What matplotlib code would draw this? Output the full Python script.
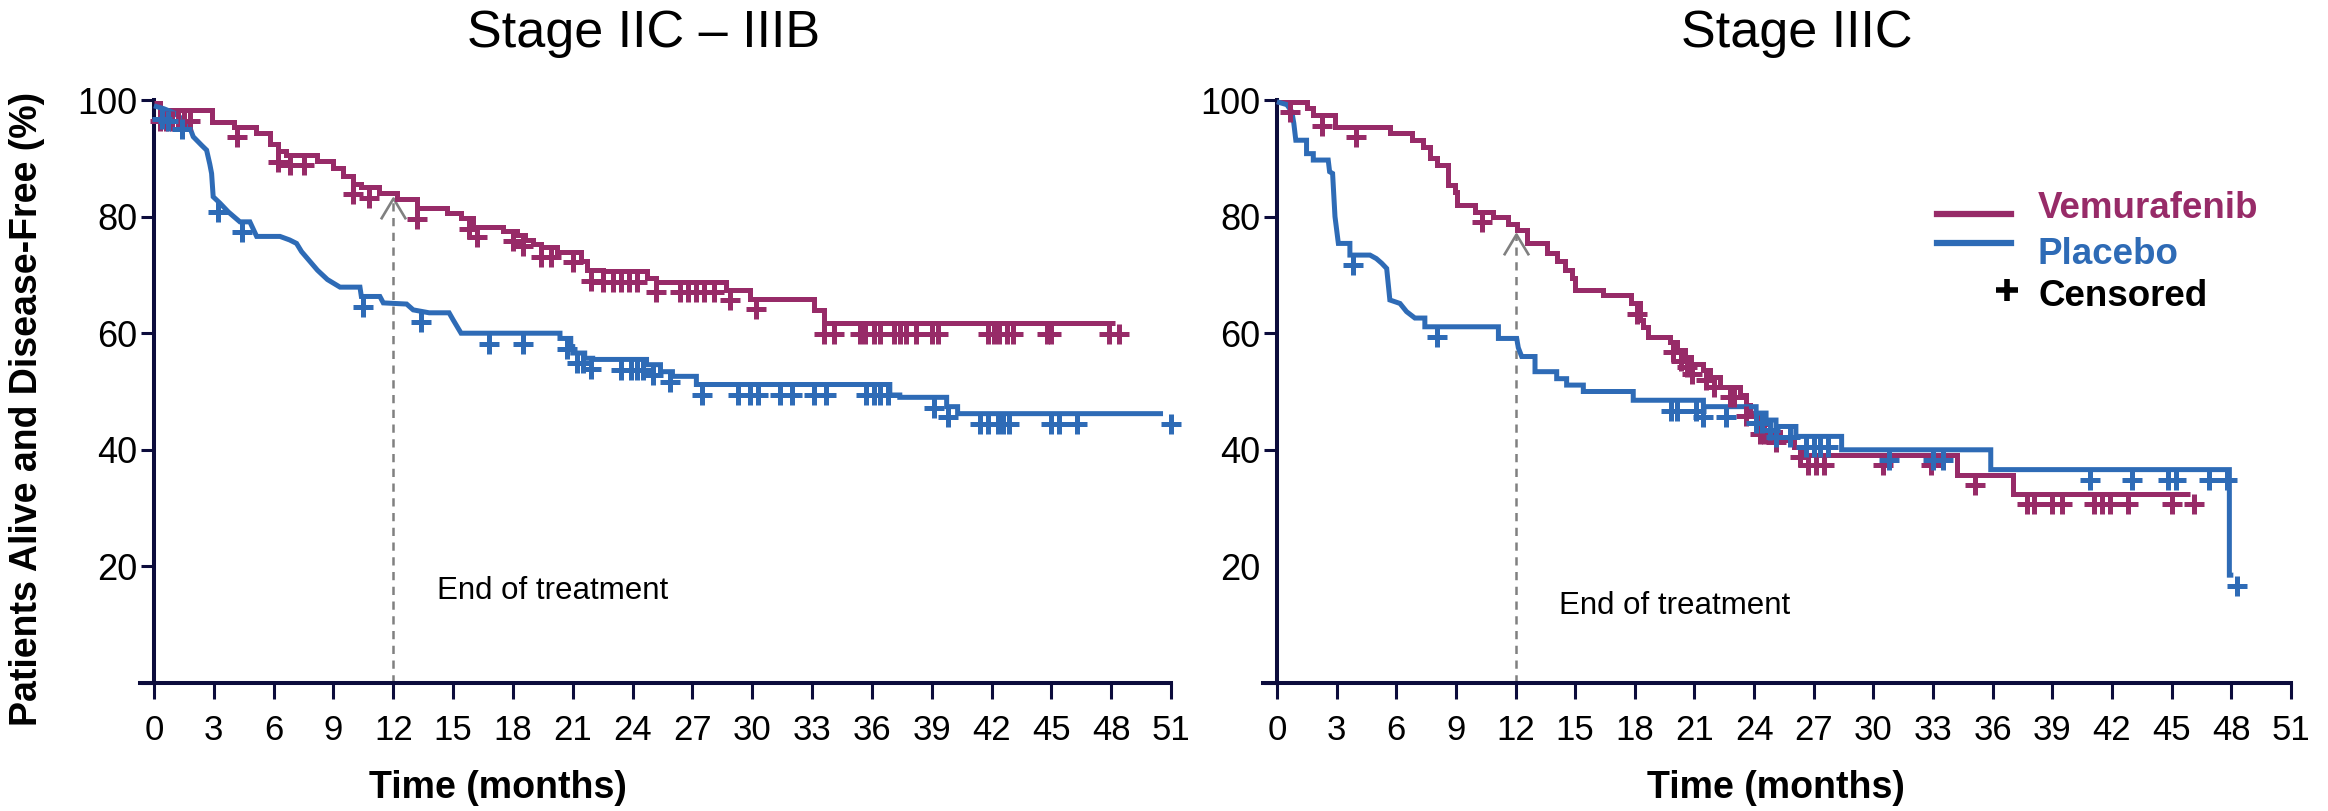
import numpy as np
import matplotlib
matplotlib.use("Agg")
import matplotlib.pyplot as plt
from matplotlib.path import Path
from matplotlib.lines import Line2D
import matplotlib.transforms as mtransforms

plt.rcParams['font.family'] = ['Liberation Sans', 'DejaVu Sans']

# ---------------- data ----------------
titles = ["Stage IIC \u2013 IIIB", "Stage IIIC"]
series_names = ["Vemurafenib", "Placebo"]
x_ticks = list(range(0, 52, 3))
y_ticks = [0, 20, 40, 60, 80, 100]
y_ticklabels = ["", "20", "40", "60", "80", "100"]

# curve vertices (time in months, % alive and disease-free)
left_vem = [(0, 99.5), (0.3, 99.5), (0.3, 98.2), (2.9, 98.2), (2.9, 96.3), (4.0, 96.3), (4.0, 95.4),
            (5.1, 95.4), (5.1, 94.3), (5.8, 94.3), (5.8, 92.5), (6.2, 92.5), (6.2, 91.2), (6.6, 91.2),
            (6.6, 90.6), (8.2, 90.6), (8.2, 89.5), (9.0, 89.5), (9.0, 88.3), (9.5, 88.3), (9.5, 86.9),
            (10.0, 86.9), (10.0, 85.6), (10.4, 85.6), (10.4, 85.0), (11.3, 85.0), (11.3, 84.0),
            (12.2, 84.0), (12.2, 83.0), (13.2, 83.0), (13.2, 81.4), (14.7, 81.4), (14.7, 80.6),
            (15.4, 80.6), (15.4, 79.7), (16.0, 79.7), (16.0, 78.3), (17.5, 78.3), (17.5, 77.6),
            (18.2, 77.6), (18.2, 76.8), (18.6, 76.8), (18.6, 76.0), (19.0, 76.0), (19.0, 75.3),
            (19.4, 75.3), (19.4, 74.8), (20.2, 74.8), (20.2, 74.0), (21.4, 74.0), (21.4, 72.3),
            (21.7, 72.3), (21.7, 70.8), (22.5, 70.8), (22.5, 70.6), (24.7, 70.6), (24.7, 69.4),
            (25.2, 69.4), (25.2, 68.8), (28.7, 68.8), (28.7, 67.4), (29.9, 67.4), (29.9, 65.9),
            (33.1, 65.9), (33.1, 63.9), (33.6, 63.9), (33.6, 61.7), (48.2, 61.7)]
left_plc = [(0, 99.0), (0.5, 98.5), (1.0, 97.8), (1.72, 96.0), (1.97, 93.7), (2.4, 92.2), (2.64, 91.4),
            (2.8, 89.0), (2.89, 87.4), (2.97, 83.4), (3.31, 82.3), (3.73, 80.8), (4.31, 79.1),
            (4.81, 79.1), (5.15, 76.6), (6.32, 76.6), (6.8, 76.0), (7.15, 75.4), (7.4, 74.0),
            (7.8, 72.4), (8.2, 70.8), (8.7, 69.2), (9.33, 67.9), (10.33, 67.9), (10.4, 66.3),
            (11.33, 66.3), (11.5, 65.2), (12.67, 65.0), (13.0, 64.0), (13.8, 63.5), (14.8, 63.5),
            (15.0, 62.3), (15.4, 60.0), (20.36, 60.0), (20.36, 59.1), (20.9, 59.1), (20.9, 57.7),
            (21.0, 57.7), (21.0, 56.6), (21.6, 56.6), (21.6, 55.7), (22.0, 55.7), (22.0, 55.5),
            (24.7, 55.5), (24.7, 54.6), (25.4, 54.6), (25.4, 53.4), (26.0, 53.4), (26.0, 52.6),
            (27.2, 52.6), (27.2, 51.2), (36.9, 51.2), (36.9, 49.4), (37.4, 49.4), (37.4, 49.0),
            (39.75, 49.0), (39.75, 47.4), (40.3, 47.4), (40.3, 46.2), (50.6, 46.2)]
right_vem = [(0, 99.7), (1.49, 99.7), (1.49, 98.6), (1.83, 98.6), (1.83, 97.4), (2.92, 97.4),
             (2.92, 95.4), (5.68, 95.4), (5.68, 94.3), (6.8, 94.3), (6.8, 93.1), (7.36, 93.1),
             (7.36, 92.0), (7.7, 92.0), (7.7, 90.0), (8.03, 90.0), (8.03, 88.8), (8.6, 88.8),
             (8.6, 85.4), (8.95, 85.4), (8.95, 84.2), (9.04, 84.2), (9.04, 82.0), (9.96, 82.0),
             (9.96, 80.8), (10.88, 80.8), (10.88, 80.0), (11.63, 80.0), (11.63, 78.8), (12.06, 78.8),
             (12.06, 77.7), (12.56, 77.7), (12.56, 75.4), (13.56, 75.4), (13.56, 73.7), (14.07, 73.7),
             (14.07, 72.3), (14.5, 72.3), (14.5, 70.8), (14.82, 70.8), (14.82, 69.4), (14.99, 69.4),
             (14.99, 67.4), (16.4, 67.4), (16.4, 66.5), (17.8, 66.5), (17.8, 65.1), (18.26, 65.1),
             (18.26, 62.3), (18.4, 62.3), (18.4, 61.1), (18.68, 61.1), (18.68, 59.4), (19.77, 59.4),
             (19.77, 58.5), (20.1, 58.5), (20.1, 57.1), (20.5, 57.1), (20.5, 56.0), (20.85, 56.0),
             (20.85, 54.8), (21.45, 54.8), (21.45, 53.7), (21.8, 53.7), (21.8, 52.5), (22.3, 52.5),
             (22.3, 50.8), (23.3, 50.8), (23.3, 49.4), (23.6, 49.4), (23.6, 47.6), (23.8, 47.6),
             (23.8, 46.3), (24.3, 46.3), (24.3, 44.5), (24.8, 44.5), (24.8, 43.1), (25.3, 43.1),
             (25.3, 41.7), (26.0, 41.7), (26.0, 40.5), (26.5, 40.5), (26.5, 39.1), (34.2, 39.1),
             (34.2, 35.7), (37.0, 35.7), (37.0, 32.5), (45.9, 32.5)]
right_plc = [(0, 99.7), (0.5, 99.2), (0.75, 98.0), (0.85, 96.0), (0.95, 93.1), (1.49, 93.1),
             (1.49, 90.8), (1.83, 90.8), (1.83, 89.7), (2.58, 89.7), (2.65, 87.7), (2.8, 87.4),
             (2.92, 80.0), (3.09, 75.4), (3.67, 75.4), (3.67, 73.4), (4.68, 73.4), (5.0, 72.8),
             (5.27, 72.0), (5.52, 71.1), (5.68, 65.7), (6.19, 65.1), (6.52, 63.7), (6.94, 62.6),
             (7.44, 62.6), (7.44, 61.1), (11.14, 61.1), (11.14, 59.1), (12.06, 59.1), (12.14, 57.5),
             (12.31, 56.0), (12.98, 56.0), (12.98, 53.4), (14.07, 53.4), (14.07, 52.2), (14.57, 52.2),
             (14.57, 51.1), (15.41, 51.1), (15.41, 50.0), (17.92, 50.0), (17.92, 48.5), (21.45, 48.5),
             (21.45, 47.4), (24.1, 47.4), (24.1, 46.3), (24.6, 46.3), (24.6, 45.1), (25.1, 45.1),
             (25.1, 44.0), (26.1, 44.0), (26.1, 42.3), (28.4, 42.3), (28.4, 40.0), (35.9, 40.0),
             (35.9, 36.6), (47.9, 36.6), (47.9, 18.5), (48.1, 18.5)]

# censoring times (months)
left_vem_cens = [0.3, 0.6, 0.9, 1.2, 1.5, 1.8, 4.15, 6.2, 6.8, 7.5, 10.0, 10.8, 13.2, 15.8, 16.2, 18.0,
                 18.5, 19.4, 19.9, 21.0, 21.9, 22.5, 23.0, 23.4, 23.8, 24.2, 25.2, 26.4, 26.8, 27.2,
                 27.6, 28.1, 28.9, 30.2, 33.6, 34.1, 35.4, 35.65, 36.1, 36.4, 37.1, 37.4, 37.7, 38.2,
                 39.0, 39.3, 41.8, 42.1, 42.4, 42.8, 43.1, 44.8, 45.0, 47.9, 48.4]
left_plc_cens = [0.4, 0.7, 1.4, 3.2, 4.4, 10.5, 13.4, 16.8, 18.5, 20.7, 21.2, 21.5, 21.9, 23.4, 23.9,
                 24.2, 24.5, 25.0, 25.9, 27.5, 29.3, 29.9, 30.3, 31.4, 32.0, 33.1, 33.7, 35.7, 36.1,
                 36.4, 36.8, 39.1, 39.8, 41.4, 41.8, 42.3, 42.6, 42.9, 45.0, 45.4, 46.3, 51.0]
right_vem_cens = [0.65, 2.25, 4.0, 10.3, 18.1, 19.9, 20.3, 20.6, 20.9, 21.6, 22.0, 22.8, 23.0, 23.6,
                  24.3, 24.5, 25.1, 26.3, 26.7, 27.1, 27.5, 30.5, 32.9, 35.1, 37.7, 38.1, 39.0, 39.5,
                  41.1, 41.5, 41.9, 42.8, 45.0, 46.1]
right_plc_cens = [3.84, 8.03, 19.8, 20.1, 21.1, 21.45, 22.6, 24.1, 24.4, 24.8, 25.1, 25.8, 26.6, 27.0,
                  27.3, 27.7, 30.8, 33.0, 33.5, 40.9, 43.0, 44.8, 45.2, 46.9, 47.8, 48.3]

# end-of-treatment marker: month and curve level where the arrow points
eot_month = 12
eot_level = [83.2, 77.1]

# ---------------- style ----------------
C_VEM = "#972B68"
C_PLC = "#2E6BB6"
SPINE = "#0C0C3C"
GREY = "#808080"
LW = 3.6
NARROW = ['Liberation Sans Narrow', 'Liberation Sans', 'DejaVu Sans']

fig = plt.figure(figsize=(23.28, 8.11), dpi=100)
axL = fig.add_axes([140 / 2328, 1 - 683 / 811, 1031 / 2328, 583 / 811])
axR = fig.add_axes([1263 / 2328, 1 - 683 / 811, 1028 / 2328, 583 / 811])


def level_at(tv, sv, t):
    i = np.searchsorted(tv, t, side='right') - 1
    if i >= len(tv) - 1:
        return sv[-1]
    t0, t1 = tv[i], tv[i + 1]
    if t1 <= t0:
        return sv[i]
    return sv[i] + (sv[i + 1] - sv[i]) * (t - t0) / (t1 - t0)


chevron = Path([(-0.6, -1.0), (0, 0), (0.6, -1.0)], [Path.MOVETO, Path.LINETO, Path.LINETO])

panels = [
    (axL, left_vem, left_plc, left_vem_cens, left_plc_cens, eot_level[0], (14.2, 15.8), 0.347),
    (axR, right_vem, right_plc, right_vem_cens, right_plc_cens, eot_level[1], (14.2, 13.2), 0.499),
]

for k, (ax, vem, plc, vc, pc, lvl, txt_pos, xl_pos) in enumerate(panels):
    offset = mtransforms.ScaledTranslation(0, -7.5 / 72, fig.dpi_scale_trans)
    for curve, cens, col in [(vem, vc, C_VEM), (plc, pc, C_PLC)]:
        arr = np.array(curve)
        tv, sv = arr[:, 0], arr[:, 1]
        ax.plot(tv, sv, color=col, lw=LW, solid_joinstyle='miter', solid_capstyle='butt',
                clip_on=False, zorder=3)
        cy = [level_at(tv, sv, t) for t in cens]
        ax.plot(cens, cy, ls='none', marker='+', ms=15, mew=3.6, color=col,
                transform=ax.transData + offset, clip_on=False, zorder=4)

    # end of treatment dashed arrow
    dl, = ax.plot([eot_month, eot_month], [0, lvl], color=GREY, lw=1.8, zorder=2)
    dl.set_dashes([3.3, 2.6])
    ax.plot([eot_month], [lvl], ls='none', marker=chevron, ms=30, mew=1.9,
            mfc='none', mec=GREY, zorder=2)
    ax.text(txt_pos[0], txt_pos[1], "End of treatment", fontsize=22.5, ha='left', va='center')

    ax.set_xlim(-0.7, 51)
    ax.set_ylim(0, 100)
    ax.spines['left'].set_position(('data', 0))
    ax.spines['top'].set_visible(False)
    ax.spines['right'].set_visible(False)
    for s in ('left', 'bottom'):
        ax.spines[s].set_color(SPINE)
        ax.spines[s].set_linewidth(2.9)
    ax.set_xticks(x_ticks)
    ax.set_xticklabels([str(v) for v in x_ticks], family=NARROW, fontsize=25)
    ax.set_yticks(y_ticks)
    ax.set_yticklabels(y_ticklabels, fontsize=26)
    ax.tick_params(axis='x', direction='out', length=11.5, width=2.2, color=SPINE, pad=11)
    ax.tick_params(axis='y', direction='out', length=9.5, width=2.2, color=SPINE, pad=2.5)
    if k == 1:
        ax.yaxis.get_major_ticks()[1].tick1line.set_visible(False)
    ax.text(xl_pos, -0.18, "Time (months)", transform=ax.transAxes, ha='center', va='center',
            fontsize=27, fontweight='bold', family=NARROW)

fig.text(644 / 2328, 1 - 33 / 811, titles[0], ha='center', va='center', fontsize=37.5)
fig.text(1797 / 2328, 1 - 33 / 811, titles[1], ha='center', va='center', fontsize=37.5)
fig.text(27 / 2328, 1 - 409 / 811, "Patients Alive and Disease-Free (%)", rotation=90,
         ha='center', va='center', fontsize=27, fontweight='bold')

# legend
fig.add_artist(Line2D([1937 / 2328, 2011 / 2328], [1 - 214 / 811] * 2, color=C_VEM, lw=4.5))
fig.add_artist(Line2D([1937 / 2328, 2011 / 2328], [1 - 243 / 811] * 2, color=C_PLC, lw=4.5))
fig.add_artist(Line2D([2007 / 2328], [1 - 290 / 811], ls='none', marker='+', ms=16, mew=4,
                      color='black'))
fig.text(2038 / 2328, 1 - 208 / 811, series_names[0], color=C_VEM, fontsize=26.5,
         fontweight='bold', ha='left', va='center')
fig.text(2038 / 2328, 1 - 255 / 811, series_names[1], color=C_PLC, fontsize=26.5,
         fontweight='bold', ha='left', va='center')
fig.text(2038 / 2328, 1 - 297 / 811, "Censored", color='black', fontsize=26.5,
         fontweight='bold', ha='left', va='center')

fig.savefig("out.png", dpi=100)
